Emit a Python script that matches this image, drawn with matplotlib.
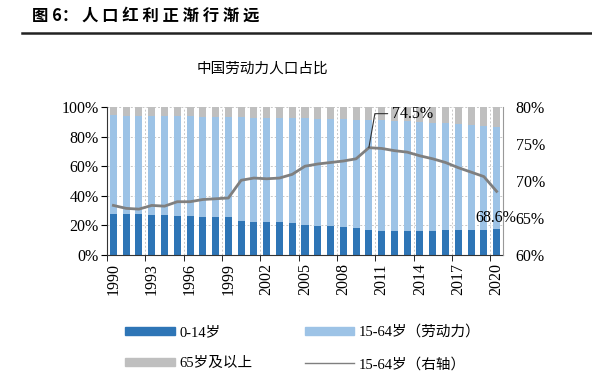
import numpy as np
import matplotlib.pyplot as plt
from matplotlib.lines import Line2D
from matplotlib.patches import Patch

plt.rcParams['font.family'] = ['Liberation Serif', 'Noto Sans CJK SC']

years = list(range(1990, 2021))
age_0_14 = [27.7, 27.7, 27.6, 27.2, 27.0, 26.6, 26.4, 26.0, 25.7, 25.4,
            22.9, 22.5, 22.4, 22.1, 21.5, 20.3, 19.8, 19.4, 19.0, 18.5,
            16.6, 16.5, 16.5, 16.4, 16.5, 16.5, 16.7, 16.8, 16.9, 16.8, 17.9]
age_15_64 = [66.7, 66.3, 66.2, 66.7, 66.6, 67.2, 67.2, 67.5, 67.6, 67.7,
             70.1, 70.4, 70.3, 70.4, 70.9, 72.0, 72.3, 72.5, 72.7, 73.0,
             74.5, 74.4, 74.1, 73.9, 73.4, 73.0, 72.5, 71.8, 71.2, 70.6, 68.6]
age_65_up = [5.6, 6.0, 6.2, 6.1, 6.4, 6.2, 6.4, 6.5, 6.7, 6.9,
             7.0, 7.1, 7.3, 7.5, 7.6, 7.7, 7.9, 8.1, 8.3, 8.5,
             8.9, 9.1, 9.4, 9.7, 10.1, 10.5, 10.8, 11.4, 11.9, 12.6, 13.5]

c_young = '#2e75b6'
c_work = '#9dc3e6'
c_old = '#bfbfbf'
c_line = '#7f7f7f'

fig = plt.figure(figsize=(5.92, 3.89), dpi=100)

# header
fig.text(32 / 592, 1 - 16 / 389, '图 6： 人 口 红 利 正 渐 行 渐 远', fontsize=11.8,
         fontweight='bold', family=['Noto Sans CJK SC'], va='center', ha='left')
fig.add_artist(Line2D([22 / 592, 1], [1 - 33 / 389] * 2, color='#222222', lw=1.8))
fig.text(262 / 592, 1 - 69 / 389, '中国劳动力人口占比', fontsize=10.5,
         family=['Noto Sans CJK SC'], va='center', ha='center')

ax = fig.add_axes([107 / 592, 1 - 255 / 389, 396 / 592, 148 / 389])
x = np.arange(len(years))
y_young = np.array(age_0_14)
y_old = np.array(age_65_up)
y_work = 100 - y_young - y_old
w = 0.55
ax.bar(x, y_young, w, color=c_young, zorder=2)
ax.bar(x, y_work, w, bottom=y_young, color=c_work, zorder=2)
ax.bar(x, y_old, w, bottom=y_young + y_work, color=c_old, zorder=2)
ax.set_xlim(-0.5, len(years) - 0.5)
ax.set_ylim(0, 100)
ax.set_yticks(range(0, 101, 20))
ax.set_yticklabels([f'{v}%' for v in range(0, 101, 20)], fontsize=11.5)
ax.set_xticks(x[::3])
ax.set_xticklabels([str(years[i]) for i in x[::3]], rotation=90, fontsize=11.5)
ax.tick_params(axis='x', length=0, pad=6)
ax.set_xticks(x[::3] - 0.5, minor=True)
ax.tick_params(axis='x', which='minor', length=4, direction='out')
ax.tick_params(axis='y', length=4, direction='out', pad=2)
ax.grid(axis='y', ls=(0, (2, 2)), color='#c8c8c8', lw=0.7, zorder=0)
ax.grid(axis='x', which='minor', ls=(0, (2, 2)), color='#c8c8c8', lw=0.7, zorder=0)
for side in ['top', 'right']:
    ax.spines[side].set_visible(False)
ax.spines['left'].set_color('#333333')
ax.spines['bottom'].set_color('#333333')

ax2 = ax.twinx()
ax2.plot(x, age_15_64, color=c_line, lw=2, zorder=3)
ax2.set_ylim(60, 80)
ax2.set_yticks(range(60, 81, 5))
ax2.set_yticklabels([f'{v}%' for v in range(60, 81, 5)], fontsize=11.5)
ax2.tick_params(axis='y', length=0, pad=9)
for side in ['top', 'left', 'bottom']:
    ax2.spines[side].set_visible(False)
ax2.spines['right'].set_color('#999999')

i_max = years.index(2010)
ax2.annotate(f'{age_15_64[i_max]:.1f}%', xy=(x[i_max], age_15_64[i_max]),
             xytext=(x[i_max] + 1.8, 79.1), fontsize=11.5, va='center', ha='left',
             arrowprops=dict(arrowstyle='-', color='#333333', lw=0.8, shrinkA=1, shrinkB=0,
                             connectionstyle='angle,angleA=0,angleB=80,rad=0'))
ax2.text(x[-1] + 1.5, 65.0, f'{age_15_64[-1]:.1f}%', fontsize=11.5, ha='right', va='center')

handles = [Patch(color=c_young), Patch(color=c_old), Patch(color=c_work),
           Line2D([], [], color=c_line, lw=1)]
labels = ['0-14岁', '65岁及以上', '15-64岁（劳动力）', '15-64岁（右轴）']
fig.legend(handles, labels, ncol=2, loc='upper left', bbox_to_anchor=(112 / 592, 1 - 312 / 389),
           frameon=False, fontsize=10.5, handlelength=3.4, handleheight=0.5,
           columnspacing=3.6, labelspacing=1.25, handletextpad=0.3)

fig.savefig('out.png', dpi=100)
